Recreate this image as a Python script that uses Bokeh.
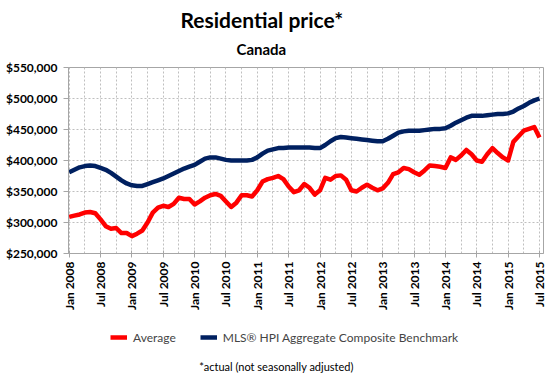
from bokeh.plotting import figure
from bokeh.models import (Range1d, FixedTicker, NumeralTickFormatter, Title, Legend, LegendItem, Label)
from bokeh.layouts import column
from bokeh.embed import file_html
from bokeh.resources import INLINE
import math

# months from Jan 2008 to Jul 2015 (index 0..90)
months = list(range(91))
tick_months = list(range(0, 91, 6))
tick_labels = [f"{'Jan' if m % 12 == 0 else 'Jul'} {2008 + m // 12}" for m in tick_months]

average = [309, 311, 313, 316, 317, 315, 305, 294, 290, 291, 283, 283,
           278, 282, 287, 300, 316, 324, 327, 325, 330, 340, 338, 338,
           329, 334, 340, 344, 346, 343, 334, 325, 332, 344, 344, 342,
           352, 366, 370, 372, 375, 370, 358, 349, 352, 362, 356, 345,
           352, 372, 369, 375, 376, 369, 352, 350, 356, 361, 356, 352,
           355, 364, 378, 381, 388, 386, 381, 377, 384, 392, 391, 390,
           388, 405, 401, 408, 417, 410, 400, 398, 410, 420, 412, 405,
           400, 430, 439, 448, 451, 454, 437]
mls_hpi = [381, 385, 389, 391, 392, 391, 388, 385, 380, 374, 368, 363,
           360, 359, 359, 362, 365, 368, 371, 375, 379, 383, 387, 390,
           393, 398, 403, 405, 405, 403, 401, 400, 400, 400, 400, 401,
           405, 411, 416, 418, 420, 420, 421, 421, 421, 421, 421, 420,
           420, 425, 431, 436, 438, 437, 436, 435, 434, 433, 432, 431,
           431, 435, 440, 445, 447, 448, 448, 448, 449, 450, 451, 451,
           452, 456, 461, 465, 469, 472, 472, 472, 473, 474, 475, 475,
           476, 479, 484, 488, 493, 497, 500]
average = [v * 1000 for v in average]
mls_hpi = [v * 1000 for v in mls_hpi]
series_names = ["Average", "MLS® HPI Aggregate Composite Benchmark"]
footnote = "*actual (not seasonally adjusted)"

FONT = "Lato"
GRID = "#BFBFBF"
AXIS = "#A6A6A6"
RED = "#FF0000"
NAVY = "#002060"

p = figure(frame_width=475, frame_height=186, output_backend="svg", toolbar_location=None,
           x_range=Range1d(-0.13, 90.77), y_range=Range1d(250000, 550000),
           min_border_left=68, min_border_right=10, min_border_top=67, min_border_bottom=67,
           title="Residential price*")
p.outline_line_color = AXIS
p.outline_line_width = 1

p.title.text_font = FONT
p.title.text_font_style = "bold"
p.title.text_font_size = "21px"
p.title.text_color = "#000000"
p.title.align = "left"
p.title.offset = 112
p.title.standoff = -8

sub = Title(text="Canada", text_font=FONT, text_font_style="bold", text_font_size="15px",
            text_color="#000000", align="left", offset=168, standoff=20)
p.add_layout(sub, "above")

p.xaxis.ticker = FixedTicker(ticks=tick_months)
p.xaxis.major_label_overrides = {m: l for m, l in zip(tick_months, tick_labels)}
p.xaxis.major_label_orientation = math.pi / 2
p.xgrid.ticker = FixedTicker(ticks=list(range(0, 91, 3)))
p.yaxis.ticker = FixedTicker(ticks=list(range(250000, 550001, 50000)))
p.yaxis.formatter = NumeralTickFormatter(format="$0,0")

for ax in (p.xaxis, p.yaxis):
    ax.axis_line_color = AXIS
    ax.major_tick_line_color = AXIS
    ax.minor_tick_line_color = None
    ax.major_label_text_font = FONT
    ax.major_label_text_font_style = "bold"
    ax.major_label_text_color = "#000000"
p.yaxis.major_label_text_font_size = "12px"
p.xaxis.major_label_text_font_size = "12px"
p.yaxis.major_tick_in = 0
p.yaxis.major_tick_out = 5
p.yaxis.major_label_standoff = 6
p.xaxis.major_tick_in = 3
p.xaxis.major_tick_out = 4
p.xaxis.major_label_standoff = 4

for g in (p.xgrid, p.ygrid):
    g.grid_line_color = GRID
    g.grid_line_dash = "2 2"
    g.grid_line_width = 1

p.line(months, average, line_color=RED, line_width=4.5, line_join="round")
p.line(months, mls_hpi, line_color=NAVY, line_width=4.5, line_join="round")

# lower strip: legend and footnote; its frame is aligned with the chart frame (68..543)
q = figure(width=553, height=54, output_backend="svg", toolbar_location=None,
           x_range=Range1d(68, 543), y_range=Range1d(374, 320),
           min_border_left=0, min_border_right=0, min_border_top=0, min_border_bottom=0)
q.axis.visible = False
q.grid.visible = False
q.outline_line_color = None

k_avg = q.line(x=[math.nan], y=[math.nan], line_color=RED, line_width=4.5)
k_mls = q.line(x=[math.nan], y=[math.nan], line_color=NAVY, line_width=4.5)
legend = Legend(items=[LegendItem(label=series_names[0], renderers=[k_avg]),
                       LegendItem(label=series_names[1], renderers=[k_mls])],
                orientation="horizontal", location=(42, 29),
                label_text_font=FONT, label_text_font_size="12px",
                glyph_width=17, glyph_height=16, label_height=16, label_standoff=6, spacing=24,
                padding=0, margin=0, border_line_color=None, background_fill_alpha=0)
q.add_layout(legend, "center")

q.add_layout(Label(x=276, y=366, text=footnote, text_font=FONT, text_font_size="11px",
                   text_align="center", text_baseline="middle", text_color="#000000"))

open("out.html", "w").write(file_html(column(p, q, spacing=0), INLINE))
